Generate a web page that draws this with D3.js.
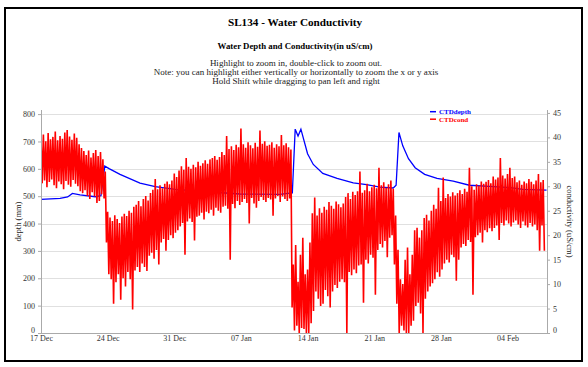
<!DOCTYPE html>
<html>
<head>
  <title>SL134 - Water Conductivity</title>
  <script src="https://d3js.org/d3.v7.min.js"></script>
  <style>
    body { margin: 0; background: #fff; }
    svg text { font-family: "Liberation Serif", "Times New Roman", serif; }
    .grid line { stroke: #e0e0e0; stroke-width: 1px; }
    .axis path, .axis line { stroke: #aaa; }
    .axis text { fill: #333; font-size: 8px; }
  </style>
</head>
<body>
  <svg id="chart" width="588" height="367"></svg>

  <script>
    // start of the record and the week ticks
    const startDate = "2013-12-17";
    const tickDates = ["2013-12-17", "2013-12-24", "2013-12-31", "2014-01-07",
                       "2014-01-14", "2014-01-21", "2014-01-28", "2014-02-04"];
    const depthTicks = [0, 100, 200, 300, 400, 500, 600, 700, 800];
    const condTicks = [0, 5, 10, 15, 20, 25, 30, 35, 40, 45];

    // CTDdepth (mm), x in days after start
    const depthDays = [0, 2, 2.8, 3.3, 4.1, 5.7, 6.3, 6.7, 7.2, 8.3, 10.4, 12, 14.1, 16.7,
                       20.9, 25.1, 25.9, 26.4, 26.7, 27, 27.3, 28, 28.6, 29.6, 31.1, 32.8,
                       34.2, 35.6, 37, 37.3, 37.6, 38, 38.6, 39.3, 40.3, 41.6, 43.3, 45,
                       47.5, 49.3, 50.6, 53.1];
    const depthValues = [488, 492, 497, 510, 505, 498, 502, 610, 600, 580, 548, 535, 525, 518,
                         508, 507, 510, 512, 745, 720, 745, 655, 616, 583, 565, 549,
                         542, 533, 530, 540, 733, 684, 637, 604, 580, 565, 555, 540,
                         535, 531, 525, 522];

    // CTDcond (uS/cm), highest and lowest reading in each quarter day
    const condHi = [
      39.8, 40.6, 39.2, 40.9, 39.6, 40.1, 41.2, 39.4, 40.3, 39.7, 41.0, 41.5, 40.2, 39.5, 40.8, 39.9,
      38.6, 37.8, 37.2, 36.4, 37.3, 35.9, 36.8, 37.4, 36.2, 37.0, 35.5, 33.0, 24.8, 23.6, 22.9, 24.1,
      23.3, 22.5, 23.8, 24.4, 23.9, 25.0, 24.6, 25.8, 26.2, 27.0, 25.9, 27.4, 28.0, 27.1, 28.6, 29.3,
      31.5, 29.4, 30.2, 29.6, 30.5, 31.0, 30.4, 31.2, 32.6, 31.9, 33.2, 34.1, 33.4, 35.8, 34.0, 33.6,
      34.4, 33.9, 35.0, 34.2, 34.7, 35.3, 34.6, 35.5, 35.8, 36.2, 35.4, 36.0, 37.0, 36.4, 40.3, 37.6,
      38.2, 37.4, 38.5, 38.0, 41.8, 38.6, 37.9, 39.0, 38.4, 37.8, 38.9, 38.1, 41.4, 38.7, 39.2, 38.3,
      38.5, 39.0, 37.9, 38.6, 38.2, 40.5, 38.4, 38.8, 38.0, 37.5, 14.0, 18.0, 10.5, 16.0, 19.5, 12.0,
      13.0, 18.5, 24.5, 27.7, 24.0, 25.5, 24.6, 25.8, 25.2, 26.8, 26.0, 25.4, 26.9, 26.3, 25.7, 26.5,
      27.8, 28.6, 27.4, 28.9, 28.2, 29.0, 33.0, 28.7, 29.2, 30.5, 29.0, 29.8, 30.3, 29.6, 33.8, 30.2,
      30.8, 29.7, 30.4, 31.2, 29.5, 24.0, 17.0, 11.0, 10.0, 15.0, 17.5, 12.0, 16.0, 21.0, 21.5, 19.5,
      21.0, 23.5, 24.2, 23.0, 25.0, 26.2, 25.4, 29.7, 27.0, 31.8, 27.6, 28.4, 27.9, 28.8, 28.1, 28.6,
      29.2, 28.4, 29.5, 28.9, 33.8, 30.0, 29.3, 30.4, 30.1, 31.0, 30.5, 30.9, 31.3, 30.6, 32.0, 31.4,
      31.8, 35.8, 32.2, 31.6, 32.5, 33.8, 31.7, 32.0, 30.8, 31.2, 30.3, 31.0, 30.6, 31.5, 30.9, 30.4,
      31.2, 32.5, 30.8, 31.3];
    const condLo = [
      30.6, 31.2, 29.8, 30.9, 31.4, 30.2, 29.6, 31.0, 30.4, 29.4, 31.1, 30.3, 29.9, 31.3, 30.5, 30.0,
      29.0, 28.6, 29.2, 28.0, 27.4, 28.8, 27.9, 26.6, 27.0, 28.4, 27.5, 18.5, 12.0, 11.0, 6.0, 10.4,
      12.0, 6.8, 11.2, 9.5, 12.5, 11.0, 4.8, 12.8, 13.5, 12.5, 14.2, 13.5, 12.7, 15.8, 16.4, 15.2,
      17.0, 14.0, 18.5, 19.2, 16.8, 19.0, 20.0, 19.4, 20.5, 21.0, 21.8, 22.5, 16.0, 22.8, 23.4, 22.7,
      18.9, 23.8, 24.0, 24.6, 23.2, 24.8, 24.5, 25.2, 24.0, 25.6, 25.0, 24.6, 25.8, 26.0, 25.4, 15.0,
      26.4, 25.5, 27.0, 26.2, 26.8, 27.4, 26.6, 22.4, 27.6, 26.5, 25.6, 27.0, 27.8, 27.2, 26.8, 27.6,
      27.3, 24.0, 27.5, 28.0, 26.8, 27.9, 27.4, 27.0, 27.5, 5.2, 0.5, 1.5, 0, 1.0, 0.8, 0,
      0, 2.0, 4.5, 8.5, 7.0, 5.5, 6.0, 8.8, 7.5, 5.2, 8.5, 9.8, 9.2, 10.5, 11.0, 10.4,
      0, 12.5, 11.8, 13.0, 12.2, 13.8, 14.0, 6.2, 15.0, 14.2, 16.0, 15.4, 7.8, 17.0, 18.2, 17.5,
      18.8, 15.5, 19.5, 20.0, 14.0, 6.0, 0, 1.5, 0.5, 0, 0, 1.5, 2.5, 5.5, 6.2, 4.0,
      0, 7.0, 8.5, 9.5, 10.2, 11.0, 12.4, 11.5, 13.0, 14.2, 15.0, 14.4, 16.0, 15.5, 10.7, 15.0,
      17.5, 18.2, 17.8, 19.0, 18.6, 7.8, 19.6, 20.0, 20.5, 18.5, 21.0, 20.6, 21.4, 20.8, 21.5, 22.0,
      19.0, 22.5, 22.0, 23.0, 22.4, 21.8, 22.6, 23.0, 22.2, 21.5, 22.8, 22.0, 21.6, 22.5, 21.8, 22.2,
      21.0, 16.8, 22.0, 16.8];

    const svg = d3.select("#chart");
    const DAY = 864e5;
    const t0 = d3.utcParse("%Y-%m-%d")(startDate);
    const atDay = d => new Date(t0.getTime() + d * DAY);

    // outer frame
    svg.append("rect")
      .attr("x", 5).attr("y", 8).attr("width", 577).attr("height", 353)
      .attr("fill", "none").attr("stroke", "#000").attr("stroke-width", 2);

    // headings
    svg.append("text").attr("x", 295).attr("y", 26).attr("text-anchor", "middle")
      .style("font-size", "11.2px").style("font-weight", "bold")
      .text("SL134 - Water Conductivity");
    svg.append("text").attr("x", 295).attr("y", 49).attr("text-anchor", "middle")
      .style("font-size", "8.8px").style("font-weight", "bold")
      .text("Water Depth and Conductivity(in uS/cm)");
    const notes = ["Highlight to zoom in, double-click to zoom out.",
                   "Note: you can highlight either vertically or horizontally to zoom the x or y axis",
                   "Hold Shift while dragging to pan left and right"];
    svg.selectAll(".note").data(notes).enter().append("text")
      .attr("class", "note")
      .attr("x", 296).attr("y", (d, i) => 65.5 + i * 9)
      .attr("text-anchor", "middle")
      .style("font-size", "9px").style("fill", "#222")
      .text(d => d);

    const plotLeft = 41, plotRight = 547, plotTop = 110, plotBottom = 333;

    const x = d3.scaleUtc().domain([t0, atDay(53.15)]).range([plotLeft, plotRight]);
    const yDepth = d3.scaleLinear().domain([0, 815]).range([plotBottom, plotTop]);
    const yCond = d3.scaleLinear().domain([0, 45.6]).range([plotBottom, plotTop]);

    // horizontal grid
    svg.append("g").attr("class", "grid")
      .selectAll("line").data(depthTicks).enter().append("line")
      .attr("x1", plotLeft).attr("x2", plotRight)
      .attr("y1", d => Math.round(yDepth(d)) + 0.5)
      .attr("y2", d => Math.round(yDepth(d)) + 0.5);

    svg.append("clipPath").attr("id", "plot")
      .append("rect").attr("x", plotLeft).attr("y", plotTop)
      .attr("width", plotRight - plotLeft).attr("height", plotBottom - plotTop);

    // depth line (drawn first, under the conductivity)
    const depthLine = d3.line()
      .x(d => x(atDay(d)))
      .y((d, i) => yDepth(depthValues[i]));
    svg.append("path")
      .attr("clip-path", "url(#plot)")
      .attr("d", depthLine(depthDays))
      .attr("fill", "none")
      .attr("stroke", "#0000ff")
      .attr("stroke-width", 1.3);

    // conductivity: high then low reading of every quarter day
    const condPts = [];
    condHi.forEach((v, i) => {
      condPts.push([atDay(i * 0.25), v]);
      condPts.push([atDay(i * 0.25 + 0.125), condLo[i]]);
    });
    const condLine = d3.line().x(d => x(d[0])).y(d => yCond(d[1]));
    svg.append("path")
      .attr("clip-path", "url(#plot)")
      .attr("d", condLine(condPts))
      .attr("fill", "none")
      .attr("stroke", "#ff0000")
      .attr("stroke-width", 1.6)
      .attr("stroke-linejoin", "bevel");

    // axes
    const xAxis = d3.axisBottom(x)
      .tickValues(tickDates.map(d3.utcParse("%Y-%m-%d")))
      .tickFormat(d3.utcFormat("%d %b"))
      .tickSize(0).tickPadding(2);
    svg.append("g").attr("class", "axis")
      .attr("transform", `translate(0,${plotBottom})`)
      .call(xAxis)
      .call(g => g.select(".domain").attr("d", `M${plotLeft},0.5H${plotRight}`));

    // the zero labels sit a little above the bottom line
    const liftZero = g => g.selectAll(".tick text").filter(d => d === 0).attr("y", -3);

    svg.append("g").attr("class", "axis")
      .attr("transform", `translate(${plotLeft},0)`)
      .call(d3.axisLeft(yDepth).tickValues(depthTicks).tickSize(3).tickPadding(3))
      .call(g => g.select(".domain").attr("d", `M0.5,${plotTop}V${plotBottom}`))
      .call(liftZero);

    svg.append("g").attr("class", "axis")
      .attr("transform", `translate(${plotRight},0)`)
      .call(d3.axisRight(yCond).tickValues(condTicks).tickSize(3).tickPadding(3))
      .call(g => g.select(".domain").attr("d", `M0.5,${plotTop}V${plotBottom}`))
      .call(liftZero);

    // axis titles
    svg.append("text")
      .attr("transform", `translate(21,${(plotTop + plotBottom) / 2}) rotate(-90)`)
      .attr("text-anchor", "middle").style("font-size", "8.5px").style("fill", "#222")
      .text("depth (mm)");
    svg.append("text")
      .attr("transform", `translate(567,${(plotTop + plotBottom) / 2}) rotate(90)`)
      .attr("text-anchor", "middle").style("font-size", "8.5px").style("fill", "#222")
      .text("conductivity (uS/cm)");

    // legend
    const legend = [["CTDdepth", "#0000ff"], ["CTDcond", "#ff0000"]];
    const lg = svg.selectAll(".legend").data(legend).enter().append("g")
      .attr("class", "legend")
      .attr("transform", (d, i) => `translate(430,${114 + i * 7.5})`);
    lg.append("line").attr("x1", 0).attr("x2", 6).attr("y1", -2.3).attr("y2", -2.3)
      .attr("stroke", d => d[1]).attr("stroke-width", 1.5);
    lg.append("text").attr("x", 9).attr("y", 0)
      .style("font-size", "7px").style("font-weight", "bold")
      .style("fill", d => d[1])
      .text(d => d[0]);
  </script>
</body>
</html>
